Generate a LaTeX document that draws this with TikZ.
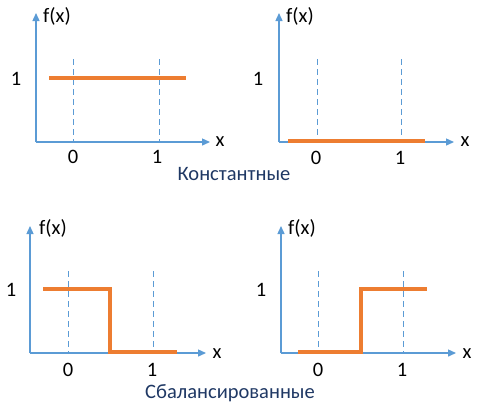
\documentclass[tikz,border=0pt]{standalone}
\usepackage{fontspec}
\setmainfont{Carlito}
\usetikzlibrary{arrows.meta}
\definecolor{axisblue}{HTML}{5B9BD5}
\definecolor{fnorange}{HTML}{ED7D31}
\definecolor{titleblue}{HTML}{1F3864}
\begin{document}
\begin{tikzpicture}[x=1pt, y=-1pt,
		axis/.style={axisblue, line width=1.4pt, -{Triangle[length=8pt, width=7pt]}},
		grid/.style={axisblue, line width=0.9pt, dash pattern=on 6pt off 4pt},
		fn/.style={fnorange, line width=3.2pt},
		lbl/.style={font=\fontsize{20.5}{24}\selectfont, inner sep=0pt},
		title/.style={titleblue, font=\fontsize{20.5}{24}\selectfont, inner sep=0pt}]
			\useasboundingbox (0, 0) rectangle (481, 408);
			% top left
			\coordinate (O1) at (36, 142);
			\draw[axis] (O1) -- (36, 13);
			\draw[axis] (O1) -- (210, 142);
			\draw[grid] (73, 59) -- (73, 142);
			\draw[grid] (159, 59) -- (159, 142);
			\draw[fn] (49, 78) -- (186, 78);
			\node[lbl] (fx1) at (57, 16) {f(x)};
			\node[lbl] (x1) at (220, 142) {x};
			\node[lbl] (one1) at (16, 79) {1};
			\node[lbl] (a1) at (73, 157) {0};
			\node[lbl] (b1) at (157, 157) {1};
			% top right
			\coordinate (O2) at (279, 142);
			\draw[axis] (O2) -- (279, 13);
			\draw[axis] (O2) -- (454, 142);
			\draw[grid] (317, 59) -- (317, 142);
			\draw[grid] (401, 59) -- (401, 142);
			\draw[fn] (288, 141) -- (425, 141);
			\node[lbl] (fx2) at (300, 16) {f(x)};
			\node[lbl] (x2) at (465, 142) {x};
			\node[lbl] (one2) at (258, 79) {1};
			\node[lbl] (a2) at (316, 158) {0};
			\node[lbl] (b2) at (400, 158) {1};
			\node[title] (const) at (234, 174) {Константные};
			% bottom left
			\coordinate (O3) at (30, 353);
			\draw[axis] (O3) -- (30, 226);
			\draw[axis] (O3) -- (206, 353);
			\draw[grid] (68, 271) -- (68, 353);
			\draw[grid] (153, 271) -- (153, 353);
			\draw[fn] (43, 289) -- (110, 289) -- (110, 352) -- (177, 352);
			\node[lbl] (fx3) at (53, 228) {f(x)};
			\node[lbl] (x3) at (217, 354) {x};
			\node[lbl] (one3) at (11, 290) {1};
			\node[lbl] (a3) at (68, 370) {0};
			\node[lbl] (b3) at (152, 370) {1};
			% bottom right
			\coordinate (O4) at (281, 353);
			\draw[axis] (O4) -- (281, 226);
			\draw[axis] (O4) -- (456, 353);
			\draw[grid] (318, 271) -- (318, 353);
			\draw[grid] (403, 271) -- (403, 353);
			\draw[fn] (298, 352) -- (361, 352) -- (361, 289) -- (427, 289);
			\node[lbl] (fx4) at (302, 228) {f(x)};
			\node[lbl] (x4) at (467, 354) {x};
			\node[lbl] (one4) at (261, 290) {1};
			\node[lbl] (a4) at (318, 370) {0};
			\node[lbl] (b4) at (402, 370) {1};
			\node[title] (bal) at (230, 393) {Сбалансированные};
\end{tikzpicture}
\end{document}
